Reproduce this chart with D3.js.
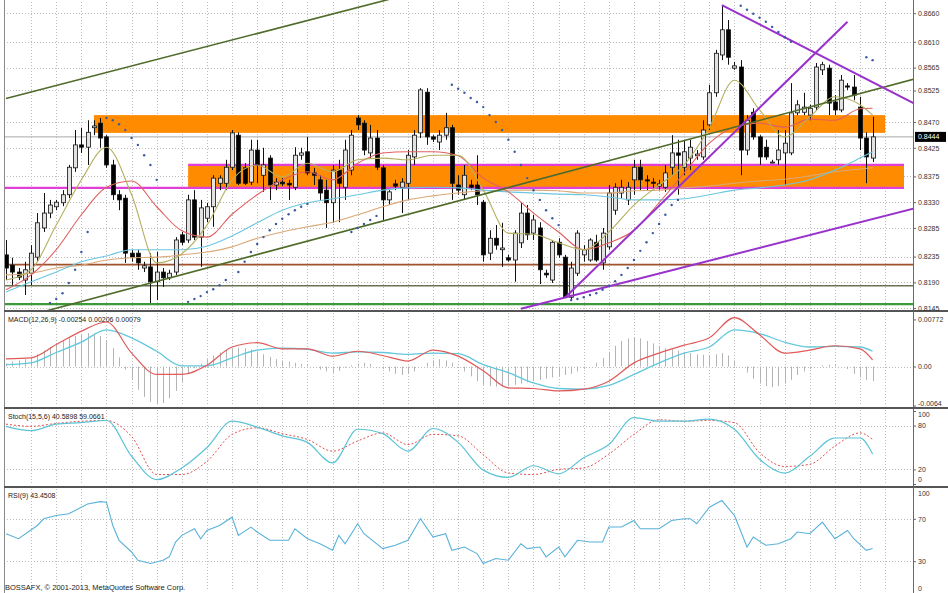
<!DOCTYPE html>
<html><head><meta charset="utf-8">
<script src="https://cdn.jsdelivr.net/npm/d3@7"></script>
<style>
html,body{margin:0;padding:0;background:#fff;overflow:hidden;}
svg{display:block;font-family:"Liberation Sans","DejaVu Sans",Arial,sans-serif;}
</style></head><body>
<svg id="c" width="948" height="593"></svg>
<script>
// ---------- DATA ----------
const open=[0.8238,0.8220,0.8208,0.8194,0.8206,0.8234,0.8285,0.8311,0.8322,0.8329,
0.8343,0.8390,0.8430,0.8426,0.8460,0.8468,0.8444,0.8395,0.8343,0.8337,
0.8241,0.8241,0.8215,0.8217,0.8191,0.8208,0.8198,0.8208,0.8273,0.8264,
0.8334,0.8269,0.8302,0.8322,0.8363,0.8363,0.8391,0.8447,0.8390,0.8365,
0.8421,0.8377,0.8407,0.8360,0.8365,0.8363,0.8356,0.8412,0.8418,0.8381,
0.8369,0.8351,0.8329,0.8386,0.8356,0.8386,0.8477,0.8468,0.8416,0.8442,
0.8390,0.8334,0.8362,0.8356,0.8363,0.8409,0.8451,0.8522,0.8444,0.8435,
0.8447,0.8460,0.8360,0.8343,0.8360,0.8360,0.8330,0.8241,0.8267,0.8247,
0.8233,0.8229,0.8259,0.8311,0.8276,0.8285,0.8206,0.8194,0.8260,0.8234,
0.8164,0.8206,0.8238,0.8229,0.8260,0.8224,0.8252,0.8316,0.8346,0.8334,
0.8369,0.8391,0.8369,0.8365,0.8358,0.8356,0.8391,0.8416,0.8391,0.8407,
0.8411,0.8409,0.8465,0.8521,0.8587,0.8631,0.8564,0.8566,0.8421,0.8487,
0.8444,0.8426,0.8400,0.8404,0.8416,0.8416,0.8486,0.8487,0.8482,0.8496,
0.8561,0.8564,0.8505,0.8491,0.8533,0.8531,0.8496,0.8442,0.8407];
const high=[0.8264,0.8233,0.8215,0.8226,0.8255,0.8311,0.8346,0.8334,0.8334,0.8351,
0.8395,0.8456,0.8460,0.8473,0.8473,0.8477,0.8447,0.8404,0.8351,0.8343,
0.8247,0.8247,0.8226,0.8241,0.8243,0.8215,0.8212,0.8269,0.8278,0.8343,
0.8351,0.8334,0.8329,0.8377,0.8377,0.8404,0.8456,0.8452,0.8398,0.8439,
0.8439,0.8425,0.8412,0.8372,0.8372,0.8369,0.8426,0.8425,0.8444,0.8390,
0.8377,0.8369,0.8395,0.8404,0.8439,0.8456,0.8482,0.8473,0.8465,0.8456,
0.8395,0.8351,0.8369,0.8372,0.8421,0.8456,0.8529,0.8529,0.8447,0.8456,
0.8486,0.8465,0.8377,0.8395,0.8369,0.8412,0.8334,0.8281,0.8290,0.8294,
0.8238,0.8281,0.8329,0.8325,0.8308,0.8295,0.8212,0.8264,0.8267,0.8238,
0.8226,0.8281,0.8255,0.8267,0.8273,0.8285,0.8360,0.8363,0.8369,0.8365,
0.8404,0.8404,0.8377,0.8372,0.8369,0.8395,0.8447,0.8439,0.8439,0.8439,
0.8421,0.8473,0.8535,0.8596,0.8674,0.8648,0.8575,0.8578,0.8482,0.8494,
0.8447,0.8439,0.8404,0.8456,0.8456,0.8538,0.8508,0.8521,0.8500,0.8573,
0.8575,0.8570,0.8517,0.8552,0.8538,0.8552,0.8514,0.8452,0.8479];
const low=[0.8194,0.8185,0.8194,0.8168,0.8185,0.8226,0.8278,0.8302,0.8316,0.8323,
0.8337,0.8383,0.8416,0.8395,0.8447,0.8425,0.8390,0.8334,0.8316,0.8224,
0.8226,0.8212,0.8208,0.8154,0.8159,0.8182,0.8194,0.8203,0.8255,0.8259,
0.8264,0.8217,0.8295,0.8287,0.8351,0.8351,0.8386,0.8360,0.8360,0.8360,
0.8363,0.8348,0.8334,0.8351,0.8358,0.8334,0.8351,0.8404,0.8377,0.8360,
0.8334,0.8285,0.8294,0.8295,0.8334,0.8377,0.8456,0.8412,0.8407,0.8386,
0.8299,0.8325,0.8351,0.8311,0.8334,0.8395,0.8442,0.8430,0.8435,0.8421,
0.8439,0.8334,0.8343,0.8334,0.8351,0.8325,0.8226,0.8229,0.8247,0.8217,
0.8226,0.8191,0.8250,0.8264,0.8264,0.8187,0.8198,0.8189,0.8233,0.8163,
0.8159,0.8201,0.8226,0.8226,0.8226,0.8212,0.8247,0.8308,0.8337,0.8325,
0.8343,0.8351,0.8351,0.8355,0.8351,0.8348,0.8377,0.8343,0.8377,0.8386,
0.8404,0.8404,0.8456,0.8514,0.8578,0.8570,0.8561,0.8377,0.8412,0.8439,
0.8395,0.8404,0.8398,0.8395,0.8360,0.8412,0.8482,0.8482,0.8473,0.8491,
0.8552,0.8482,0.8482,0.8487,0.8526,0.8508,0.8421,0.8363,0.8400];
const close=[0.8215,0.8208,0.8199,0.8212,0.8241,0.8294,0.8311,0.8325,0.8330,0.8343,
0.8391,0.8430,0.8426,0.8452,0.8463,0.8442,0.8395,0.8343,0.8334,0.8241,
0.8234,0.8224,0.8219,0.8191,0.8208,0.8198,0.8206,0.8264,0.8260,0.8334,
0.8269,0.8320,0.8322,0.8372,0.8372,0.8391,0.8451,0.8363,0.8363,0.8421,
0.8395,0.8395,0.8360,0.8365,0.8362,0.8360,0.8412,0.8416,0.8381,0.8377,
0.8346,0.8329,0.8386,0.8363,0.8421,0.8447,0.8465,0.8421,0.8442,0.8391,
0.8334,0.8348,0.8358,0.8365,0.8412,0.8447,0.8526,0.8444,0.8440,0.8447,
0.8460,0.8363,0.8351,0.8377,0.8356,0.8343,0.8238,0.8267,0.8255,0.8250,
0.8229,0.8276,0.8311,0.8273,0.8299,0.8212,0.8203,0.8260,0.8238,0.8164,
0.8215,0.8276,0.8247,0.8264,0.8229,0.8276,0.8346,0.8356,0.8356,0.8356,
0.8391,0.8369,0.8367,0.8363,0.8362,0.8381,0.8416,0.8412,0.8418,0.8426,
0.8414,0.8456,0.8521,0.8590,0.8631,0.8583,0.8568,0.8421,0.8473,0.8444,
0.8409,0.8409,0.8400,0.8421,0.8433,0.8486,0.8500,0.8496,0.8494,0.8566,
0.8570,0.8503,0.8491,0.8543,0.8531,0.8517,0.8442,0.8409,0.8444];

// sampled indicator points (bar index)
const sIdx=[0,4,8,12,16,20,24,28,32,36,40,44,48,52,56,60,64,68,72,76,80,84,88,92,96,100,104,108,112,116,120,124,128,132,136,138];
const maFast=[0.8194,0.8212,0.8290,0.8369,0.8426,0.8343,0.8224,0.8240,0.8290,0.8369,0.8395,0.8374,0.8398,0.8383,0.8404,0.8407,0.8404,0.8412,0.8412,0.8351,0.8276,0.8274,0.8259,0.8247,0.8278,0.8325,0.8360,0.8395,0.8460,0.8543,0.8491,0.8444,0.8479,0.8514,0.8500,0.8482];
const maMid=[0.8177,0.8203,0.8247,0.8308,0.8356,0.8367,0.8322,0.8280,0.8269,0.8309,0.8343,0.8369,0.8383,0.8369,0.8398,0.8416,0.8418,0.8418,0.8411,0.8372,0.8348,0.8311,0.8278,0.8247,0.8259,0.8281,0.8329,0.8381,0.8433,0.8461,0.8468,0.8461,0.8475,0.8473,0.8493,0.8494];
const maSlow=[0.8173,0.8191,0.8208,0.8226,0.8236,0.8247,0.8247,0.8247,0.8253,0.8271,0.8294,0.8316,0.8329,0.8336,0.8343,0.8351,0.8355,0.8356,0.8355,0.8351,0.8348,0.8346,0.8344,0.8343,0.8339,0.8334,0.8334,0.8336,0.8343,0.8351,0.8355,0.8360,0.8369,0.8386,0.8407,0.8418];
const maLong=[0.8203,0.8206,0.8215,0.8220,0.8229,0.8233,0.8234,0.8238,0.8243,0.8252,0.8267,0.8278,0.8287,0.8295,0.8308,0.8322,0.8334,0.8341,0.8346,0.8350,0.8351,0.8351,0.8350,0.8346,0.8346,0.8350,0.8351,0.8355,0.8358,0.8363,0.8367,0.8370,0.8376,0.8383,0.8388,0.8390];

const macdMain=[0.00126,0.00142,0.0036,0.0058,0.0073,0.0022,-0.0013,-0.0013,0.0002,0.0032,0.0039,0.0029,0.0029,0.0017,0.0025,0.0018,0.0009,0.0027,0.0017,-0.0007,-0.0035,-0.0036,-0.0040,-0.0037,-0.0024,0.0006,0.0022,0.0035,0.0047,0.0080,0.0052,0.0022,0.0027,0.0034,0.0029,0.0011];
const macdSignal=[0.0003,0.0006,0.0023,0.0040,0.0060,0.0047,0.0025,0.0001,0.0001,0.0014,0.0027,0.0030,0.0028,0.0022,0.0024,0.0023,0.0020,0.0022,0.0021,0.0003,-0.0010,-0.0027,-0.0036,-0.0037,-0.0031,-0.0013,0.0006,0.0022,0.0032,0.0060,0.0054,0.0040,0.0032,0.0033,0.0032,0.0025];
const macdHist=[0.0005,0.0008,0.0010,0.0012,0.0015,
0.0020,0.0026,0.0032,0.0038,0.0043,0.0047,0.0050,0.0053,0.0055,0.0054,0.0050,0.0042,
0.0030,0.0015,-0.0005,-0.0022,
-0.0038,-0.0050,-0.0058,-0.0062,-0.0060,-0.0052,-0.0040,
-0.0025,-0.0012,-0.0003,0.0005,
0.0012,0.0018,0.0023,0.0027,0.0030,0.0031,0.0030,0.0028,0.0025,0.0020,
0.0016,0.0012,0.0010,0.0008,0.0006,0.0004,0.0002,0.0000,
-0.0005,-0.0008,-0.0010,-0.0007,
-0.0002,0.0002,0.0005,0.0006,0.0004,
0.0000,-0.0004,-0.0008,-0.0012,-0.0014,-0.0012,-0.0008,
0.0000,0.0006,0.0010,0.0012,0.0010,0.0006,
0.0000,-0.0008,-0.0016,-0.0024,-0.0030,
-0.0032,-0.0033,-0.0033,-0.0032,-0.0030,-0.0028,-0.0026,-0.0024,-0.0022,-0.0020,-0.0018,-0.0016,-0.0014,-0.0012,-0.0008,
-0.0004,0.0000,0.0006,0.0014,
0.0024,0.0034,0.0042,0.0046,0.0048,0.0046,0.0042,0.0038,0.0034,
0.0030,0.0028,0.0026,0.0024,0.0022,0.0020,0.0019,0.0018,0.0020,0.0022,0.0018,
0.0010,0.0000,-0.0010,-0.0020,
-0.0028,-0.0032,-0.0034,-0.0032,-0.0028,-0.0022,-0.0014,-0.0008,
-0.0004,0.0000,0.0002,0.0003,0.0002,0.0000,-0.0004,
-0.0012,-0.0018,-0.0022,-0.0024];

const stochK=[79,73,82,84,87,38,6,22,50,86,78,66,57,29,75,69,45,76,57,19,9,25,14,36,54,91,86,86,89,75,34,15,38,63,63,41];
const stochD=[82,79,83,86,87,65,13,13,31,68,77,69,61,45,59,70,54,68,66,40,15,13,20,22,41,68,88,86,87,84,43,24,27,52,70,61];

const rsiIdx=[0,2,5,6,8,10,12,13,15,16,17,18,20,21,23,25,26,27,28,30,31,32,34,36,37,39,40,42,45,46,48,50,52,53,54,56,57,60,62,64,66,68,70,71,73,75,76,78,80,82,83,85,86,88,89,91,93,95,96,98,100,101,104,106,108,109,110,112,114,116,118,119,121,123,125,126,128,130,132,134,135,137,138];
const rsiVal=[55.9,51.2,63.7,70.0,73.1,74.7,80.9,84.0,86.2,85.6,63.7,49.7,38.7,30.9,27.8,30.9,34.1,48.1,54.4,60.6,51.2,59.0,63.7,71.5,54.4,62.2,57.5,49.7,49.7,60.6,51.2,46.5,40.3,54.4,46.5,65.3,55.9,41.9,45.0,49.7,70.0,52.8,55.9,40.3,43.4,37.2,27.8,32.5,30.9,46.5,41.9,43.4,34.1,43.4,34.1,49.7,48.1,48.1,62.2,62.2,68.4,60.6,60.6,68.4,70.0,70.0,65.3,80.9,87.2,73.1,43.4,52.8,45.0,46.5,51.2,57.5,55.9,66.9,51.2,59.0,51.2,40.3,41.9];

const sarIdx=[7,8,9,10,11,12,13,16,17,18,19,20,21,22,23,24,29,30,31,32,33,34,35,37,38,39,40,41,42,43,44,45,46,47,48,55,56,57,58,59,
71,72,73,74,75,76,77,78,79,80,81,82,83,84,85,86,87,88,
90,91,92,93,94,95,96,97,98,99,100,101,102,103,104,105,106,107,
117,118,119,120,121,122,123,124,125,137,138];
const sarVal=[0.8154,0.8161,0.8171,0.8189,0.8212,0.8243,0.8278,0.8477,0.8473,0.8466,0.8456,0.8442,0.8430,0.8412,0.8395,0.8369,
0.8156,0.8161,0.8166,0.8173,0.8178,0.8185,0.8194,0.8208,0.8226,0.8243,0.8257,0.8269,0.8281,0.8292,0.8301,0.8309,0.8316,0.8322,0.8327,
0.8278,0.8285,0.8292,0.8299,0.8306,
0.8535,0.8528,0.8521,0.8512,0.8505,0.8496,0.8482,0.8470,0.8456,0.8439,0.8418,0.8395,0.8372,0.8351,0.8334,0.8316,0.8302,0.8290,
0.8159,0.8161,0.8164,0.8168,0.8171,0.8177,0.8184,0.8192,0.8203,0.8215,0.8229,0.8245,0.8260,0.8276,0.8292,0.8308,0.8325,0.8334,
0.8673,0.8666,0.8659,0.8652,0.8645,0.8636,0.8627,0.8618,0.8610,0.8583,0.8578];

// drawn objects
const zoneFrom=[14,29], zoneTo=[140,143], zoneTop=[0.8482,0.8395], zoneBottom=[0.8451,0.8355];
const levelPrices=[0.8221,0.8184,0.8152];
const pinkPrices=[0.8355,0.8395], pinkFrom=[-2,29], pinkTo=[143,143];
const trendFrom=[[0,0.8511],[5,0.8136],[89,0.8163],[82,0.8144],[114,0.8674]];
const trendTo=[[62,0.8687],[145,0.8546],[134,0.8645],[145,0.8320],[145,0.8500]];
const bid=0.8444;

const priceTicks=[0.8660,0.8610,0.8565,0.8525,0.8470,0.8425,0.8375,0.8330,0.8285,0.8235,0.8190,0.8145];
const macdTicks=[0.00772,0,-0.0064], macdTickLabels=["0.00772","0.00","-0.0064"];
const stochTicks=[100,80,20,0], stochLevels=[80,20];
const rsiTicks=[100,70,30,0], rsiLevels=[70,30];

const macdLabel="MACD(12,26,9) -0.00254 0.00206 0.00079";
const stochLabel="Stoch(15,5,6) 40.5898 59.0661";
const rsiLabel="RSI(9) 43.4508";
const copyright="BOSSAFX, \u00A9 2001-2013, MetaQuotes Software Corp.";

// ---------- LAYOUT / STYLE ----------
const L=4, R=913;
const P={main:[0,311],macd:[311,408],stoch:[408,487],rsi:[487,593]};
const levelStyle=[{c:"#a0522d",w:1.6},{c:"#6b7355",w:1.6},{c:"#3c9a3c",w:2.2}];
const trendStyle=[{c:"#4f6b2a",w:1.6},{c:"#4f6b2a",w:1.6},{c:"#9932cc",w:2},{c:"#9932cc",w:2},{c:"#9932cc",w:2}];

const svg=d3.select("#c");
const x=d3.scaleLinear().domain([0,138]).range([6,872.6]);
const yP=d3.scaleLinear().domain([0.8140,0.8683]).range([311,0]);
const yM=d3.scaleLinear().domain([-0.0068,0.0091]).range([408,311]);
const yS=d3.scaleLinear().domain([0,100]).range([484,411]);
const yR=d3.scaleLinear().domain([0,100]).range([593,487]);

const defs=svg.append("defs");
Object.entries(P).forEach(([k,[t,b]])=>{
  defs.append("clipPath").attr("id","clip-"+k).append("rect")
    .attr("x",L).attr("y",t).attr("width",R-L).attr("height",b-t);
});
svg.append("rect").attr("width",948).attr("height",593).attr("fill","#fff");

const grid=svg.append("g").attr("stroke","#bdbdbd").attr("stroke-width",1).attr("stroke-dasharray","1,2");
const vIdx=d3.range(4,141,4);
Object.values(P).forEach(([t,b])=>{
  grid.selectAll(null).data(vIdx).join("line")
    .attr("x1",d=>Math.round(x(d))+0.5).attr("x2",d=>Math.round(x(d))+0.5)
    .attr("y1",t+2).attr("y2",b-2);
});
grid.selectAll(null).data(priceTicks).join("line")
  .attr("x1",L).attr("x2",R).attr("y1",d=>Math.round(yP(d))+0.5).attr("y2",d=>Math.round(yP(d))+0.5);
grid.append("line").attr("x1",L).attr("x2",R).attr("y1",Math.round(yM(0))+0.5).attr("y2",Math.round(yM(0))+0.5);
grid.selectAll(null).data(stochLevels).join("line")
  .attr("x1",L).attr("x2",R).attr("y1",d=>Math.round(yS(d))+0.5).attr("y2",d=>Math.round(yS(d))+0.5);
grid.selectAll(null).data(rsiLevels).join("line")
  .attr("x1",L).attr("x2",R).attr("y1",d=>Math.round(yR(d))+0.5).attr("y2",d=>Math.round(yR(d))+0.5);

// ---------- MAIN PANEL ----------
const gm=svg.append("g").attr("clip-path","url(#clip-main)");
gm.selectAll(null).data(zoneFrom).join("rect")
  .attr("x",(d,i)=>x(zoneFrom[i])).attr("width",(d,i)=>x(zoneTo[i])-x(zoneFrom[i]))
  .attr("y",(d,i)=>yP(zoneTop[i])).attr("height",(d,i)=>yP(zoneBottom[i])-yP(zoneTop[i]))
  .attr("fill","#ff8c00");
gm.append("line").attr("x1",L).attr("x2",R).attr("y1",yP(bid)).attr("y2",yP(bid)).attr("stroke","#a8a8a8").attr("stroke-width",1);
gm.selectAll(null).data(levelPrices).join("line")
  .attr("x1",L).attr("x2",R).attr("y1",d=>yP(d)).attr("y2",d=>yP(d))
  .attr("stroke",(d,i)=>levelStyle[i].c).attr("stroke-width",(d,i)=>levelStyle[i].w);
gm.selectAll(null).data(pinkPrices).join("line")
  .attr("x1",(d,i)=>x(pinkFrom[i])).attr("x2",(d,i)=>x(pinkTo[i]))
  .attr("y1",d=>yP(d)).attr("y2",d=>yP(d))
  .attr("stroke","#e040d8").attr("stroke-width",2.2);

// candles
const idx=d3.range(open.length);
const cg=gm.append("g");
cg.selectAll(null).data(idx).join("line")
  .attr("x1",i=>Math.round(x(i))+0.5).attr("x2",i=>Math.round(x(i))+0.5)
  .attr("y1",i=>yP(high[i])).attr("y2",i=>yP(low[i]))
  .attr("stroke","#111").attr("stroke-width",1);
cg.selectAll(null).data(idx).join("rect")
  .attr("x",i=>Math.round(x(i))-1.5).attr("width",4)
  .attr("y",i=>yP(Math.max(open[i],close[i])))
  .attr("height",i=>Math.max(1,Math.abs(yP(open[i])-yP(close[i]))))
  .attr("fill",i=>close[i]>=open[i]?"#e2e2e2":"#000")
  .attr("stroke","#111").attr("stroke-width",0.8);

// moving averages
const maLine=d3.line().x((d,i)=>x(sIdx[i])).y(d=>yP(d)).curve(d3.curveMonotoneX);
[[maLong,"#dba878"],[maSlow,"#6cc6e0"],[maMid,"#e06060"],[maFast,"#b4b060"]].forEach(([arr,c])=>{
  gm.append("path").attr("d",maLine(arr)).attr("fill","none").attr("stroke",c).attr("stroke-width",1.1);
});

// trend lines
gm.selectAll(null).data(trendFrom).join("line")
  .attr("x1",(d,i)=>x(trendFrom[i][0])).attr("y1",(d,i)=>yP(trendFrom[i][1]))
  .attr("x2",(d,i)=>x(trendTo[i][0])).attr("y2",(d,i)=>yP(trendTo[i][1]))
  .attr("stroke",(d,i)=>trendStyle[i].c).attr("stroke-width",(d,i)=>trendStyle[i].w);

// parabolic SAR
gm.selectAll(null).data(sarIdx).join("circle")
  .attr("cx",(d,i)=>x(sarIdx[i])).attr("cy",(d,i)=>yP(sarVal[i])).attr("r",1.2)
  .attr("fill","#3a5aa0");

// ---------- MACD ----------
const gmac=svg.append("g").attr("clip-path","url(#clip-macd)");
gmac.selectAll(null).data(macdHist).join("line")
  .attr("x1",(d,i)=>Math.round(x(i))+0.5).attr("x2",(d,i)=>Math.round(x(i))+0.5)
  .attr("y1",yM(0)).attr("y2",d=>yM(d))
  .attr("stroke","#b4b4b4").attr("stroke-width",1);
const mLine=d3.line().x((d,i)=>x(sIdx[i])).y(d=>yM(d)).curve(d3.curveMonotoneX);
gmac.append("path").attr("d",mLine(macdSignal)).attr("fill","none").attr("stroke","#62c8dc").attr("stroke-width",1.3);
gmac.append("path").attr("d",mLine(macdMain)).attr("fill","none").attr("stroke","#e05a5a").attr("stroke-width",1.2);

// ---------- STOCH ----------
const gst=svg.append("g").attr("clip-path","url(#clip-stoch)");
const sLine=d3.line().x((d,i)=>x(sIdx[i])).y(d=>yS(d)).curve(d3.curveMonotoneX);
gst.append("path").attr("d",sLine(stochD)).attr("fill","none").attr("stroke","#e05050").attr("stroke-width",1).attr("stroke-dasharray","2,2");
gst.append("path").attr("d",sLine(stochK)).attr("fill","none").attr("stroke","#5cc4d6").attr("stroke-width",1.2);

// ---------- RSI ----------
const grs=svg.append("g").attr("clip-path","url(#clip-rsi)");
const rLine=d3.line().x((d,i)=>x(rsiIdx[i])).y(d=>yR(d));
grs.append("path").attr("d",rLine(rsiVal)).attr("fill","none").attr("stroke","#5ab2da").attr("stroke-width",1.1);

// ---------- FRAME ----------
svg.append("line").attr("x1",L+0.5).attr("x2",L+0.5).attr("y1",0).attr("y2",593).attr("stroke","#8a8a8a");
svg.append("line").attr("x1",R+0.5).attr("x2",R+0.5).attr("y1",0).attr("y2",593).attr("stroke","#6a6a6a");
[P.main[1],P.macd[1],P.stoch[1]].forEach(y=>{
  svg.append("line").attr("x1",L).attr("x2",948).attr("y1",y).attr("y2",y).attr("stroke","#555").attr("stroke-width",2.2);
});

// ---------- AXES ----------
function styleAxis(g){
  g.select(".domain").remove();
  g.selectAll(".tick line").attr("stroke","#666");
  g.selectAll(".tick text").attr("fill","#333").attr("font-size","7px").attr("x",5);
}
svg.append("g").attr("transform",`translate(${R},0)`)
  .call(d3.axisRight(yP).tickValues(priceTicks).tickSize(3).tickFormat(d3.format(".4f"))).call(styleAxis);
const ma=svg.append("g").attr("transform",`translate(${R},0)`)
  .call(d3.axisRight(yM).tickValues(macdTicks).tickSize(3).tickFormat((d,i)=>macdTickLabels[i])).call(styleAxis);
ma.selectAll(".tick text").filter(d=>d<0).attr("dy","-0.05em");
const sa=svg.append("g").attr("transform",`translate(${R},0)`)
  .call(d3.axisRight(yS).tickValues(stochTicks).tickSize(3).tickFormat(d3.format("d"))).call(styleAxis);
sa.selectAll(".tick text").filter(d=>d===100).attr("dy","0.85em");
sa.selectAll(".tick text").filter(d=>d===0).attr("dy","-0.3em");
const ra=svg.append("g").attr("transform",`translate(${R},0)`)
  .call(d3.axisRight(yR).tickValues(rsiTicks).tickSize(3).tickFormat(d3.format("d"))).call(styleAxis);
ra.selectAll(".tick text").filter(d=>d===100).attr("dy","1.15em");
ra.selectAll(".tick text").filter(d=>d===0).attr("y",-3).attr("dy","0");

// current price tag
const by=yP(bid);
svg.append("rect").attr("x",R+2).attr("y",by-5).attr("width",31).attr("height",10).attr("fill","#000");
svg.append("text").attr("x",R+5).attr("y",by+2.5).attr("fill","#fff").attr("font-size","7px").text(d3.format(".4f")(bid));

// ---------- LABELS ----------
const lab=svg.append("g").attr("fill","#222").attr("font-size","7px");
lab.append("text").attr("x",8).attr("y",322).text(macdLabel);
lab.append("text").attr("x",8).attr("y",419).text(stochLabel);
lab.append("text").attr("x",8).attr("y",498).text(rsiLabel);
lab.append("text").attr("x",5).attr("y",590).attr("font-size","7.5px").text(copyright);
</script>
</body></html>
